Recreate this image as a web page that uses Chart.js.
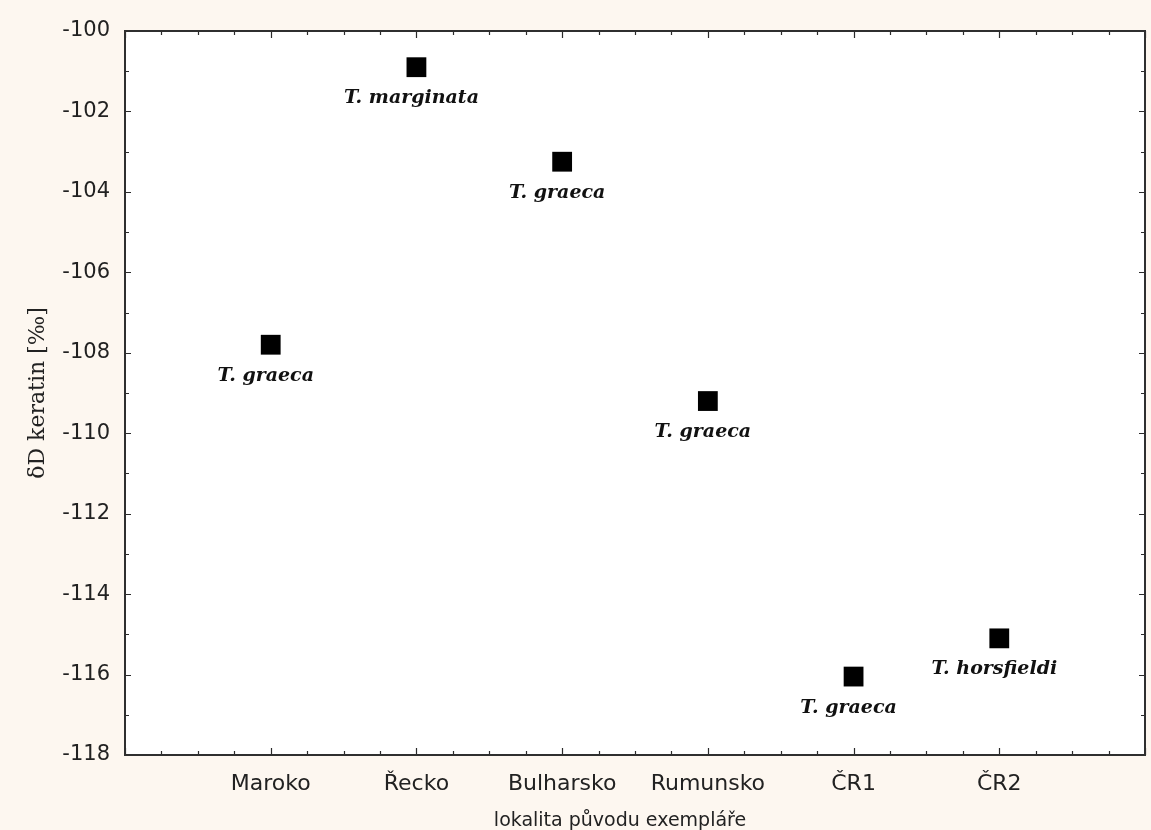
<!DOCTYPE html>
<html>
<head>
<meta charset="utf-8">
<script src="https://cdn.jsdelivr.net/npm/chart.js@4/dist/chart.umd.min.js"></script>
<style>
  html, body { margin: 0; padding: 0; background: #fdf7f0; }
  #wrap { width: 1151px; height: 830px; }
</style>
</head>
<body>
<div id="wrap"><canvas id="c" width="1151" height="830"></canvas></div>
<script>
// Origin localities of the specimens (x axis categories)
const categories = ['Maroko', 'Řecko', 'Bulharsko', 'Rumunsko', 'ČR1', 'ČR2'];
// δD of keratin [‰] for each specimen
const deltaD = [-107.8, -100.9, -103.25, -109.2, -116.05, -115.1];
// Species label shown under each point
const species = ['T. graeca', 'T. marginata', 'T. graeca', 'T. graeca', 'T. graeca', 'T. horsfieldi'];
const xTitle = 'lokalita původu exempláře';

const INK = '#222222';

// Cream page, white plotting area
const backgroundPlugin = {
  id: 'background',
  beforeDraw(chart) {
    const { ctx, chartArea: a } = chart;
    ctx.save();
    ctx.fillStyle = '#fdf7f0';
    ctx.fillRect(0, 0, chart.width, chart.height);
    ctx.fillStyle = '#ffffff';
    ctx.fillRect(a.left, a.top, a.right - a.left, a.bottom - a.top);
    ctx.restore();
  }
};

// Frame around the plot with inward major/minor ticks on all four sides
const frameTicksPlugin = {
  id: 'frameTicks',
  beforeDatasetsDraw(chart) {
    const { ctx, chartArea: a, scales: { x, y } } = chart;
    ctx.save();
    ctx.strokeStyle = '#2a2a2a';
    ctx.lineWidth = 1.2;
    ctx.beginPath();
    // x ticks every 0.25, longer on the category positions
    for (let v = x.min; v <= x.max + 1e-9; v += 0.25) {
      const px = Math.round(x.getPixelForValue(v)) + 0.5;
      const major = Math.abs(v - Math.round(v)) < 1e-9;
      const len = major ? 7 : 4;
      ctx.moveTo(px, a.bottom); ctx.lineTo(px, a.bottom - len);
      ctx.moveTo(px, a.top); ctx.lineTo(px, a.top + len);
    }
    // y ticks every 1, longer on the labelled even values
    for (let v = y.min; v <= y.max + 1e-9; v += 1) {
      const py = Math.round(y.getPixelForValue(v)) + 0.5;
      const major = Math.abs(v % 2) < 1e-9;
      const len = major ? 6 : 4;
      ctx.moveTo(a.left, py); ctx.lineTo(a.left + len, py);
      ctx.moveTo(a.right, py); ctx.lineTo(a.right - len, py);
    }
    ctx.stroke();
    ctx.lineWidth = 2;
    ctx.strokeStyle = '#2f2f2f';
    ctx.strokeRect(a.left, a.top, a.right - a.left, a.bottom - a.top);
    ctx.restore();
  }
};

// Species names under the points, and the x axis title
const textPlugin = {
  id: 'speciesLabels',
  afterDatasetsDraw(chart) {
    const { ctx, chartArea: a } = chart;
    const meta = chart.getDatasetMeta(0);
    ctx.save();
    ctx.fillStyle = '#111111';
    ctx.font = 'italic bold 19px "DejaVu Serif"';
    ctx.textAlign = 'center';
    ctx.textBaseline = 'alphabetic';
    meta.data.forEach((pt, i) => {
      ctx.fillText(species[i], pt.x - 5, pt.y + 36);
    });
    ctx.fillStyle = INK;
    ctx.font = '19px "DejaVu Sans"';
    ctx.fillText(xTitle, (a.left + a.right) / 2 - 15, chart.height - 4);
    ctx.restore();
  }
};

new Chart(document.getElementById('c'), {
  type: 'scatter',
  data: {
    datasets: [{
      data: categories.map((c, i) => ({ x: i + 1, y: deltaD[i] })),
      pointStyle: 'rect',
      pointRadius: 14,
      pointHoverRadius: 14,
      backgroundColor: '#000000',
      borderColor: '#000000',
      borderWidth: 0
    }]
  },
  options: {
    responsive: false,
    animation: false,
    devicePixelRatio: 1,
    layout: { autoPadding: false, padding: { top: 31, right: 6, left: 0, bottom: 0 } },
    plugins: { legend: { display: false }, tooltip: { enabled: false } },
    scales: {
      x: {
        type: 'linear',
        min: 0,
        max: 7,
        afterFit(s) { s.height = 75; s.paddingLeft = 0; s.paddingRight = 0; },
        grid: { display: false, drawTicks: false },
        border: { display: false },
        ticks: {
          stepSize: 1,
          autoSkip: false,
          maxRotation: 0,
          padding: 16,
          color: INK,
          font: { family: 'DejaVu Sans', size: 22 },
          callback: v => categories[v - 1] ?? ''
        }
      },
      y: {
        type: 'linear',
        min: -118,
        max: -100,
        afterFit(s) { s.width = 125; },
        grid: { display: false, drawTicks: false },
        border: { display: false },
        ticks: {
          stepSize: 2,
          padding: 15,
          color: INK,
          font: { family: 'DejaVu Sans', size: 21 }
        },
        title: {
          display: true,
          text: 'δD keratin [‰]',
          color: INK,
          font: { family: 'DejaVu Serif', size: 22 },
          padding: { top: 25, bottom: 0 }
        }
      }
    }
  },
  plugins: [backgroundPlugin, frameTicksPlugin, textPlugin]
});
</script>
</body>
</html>
